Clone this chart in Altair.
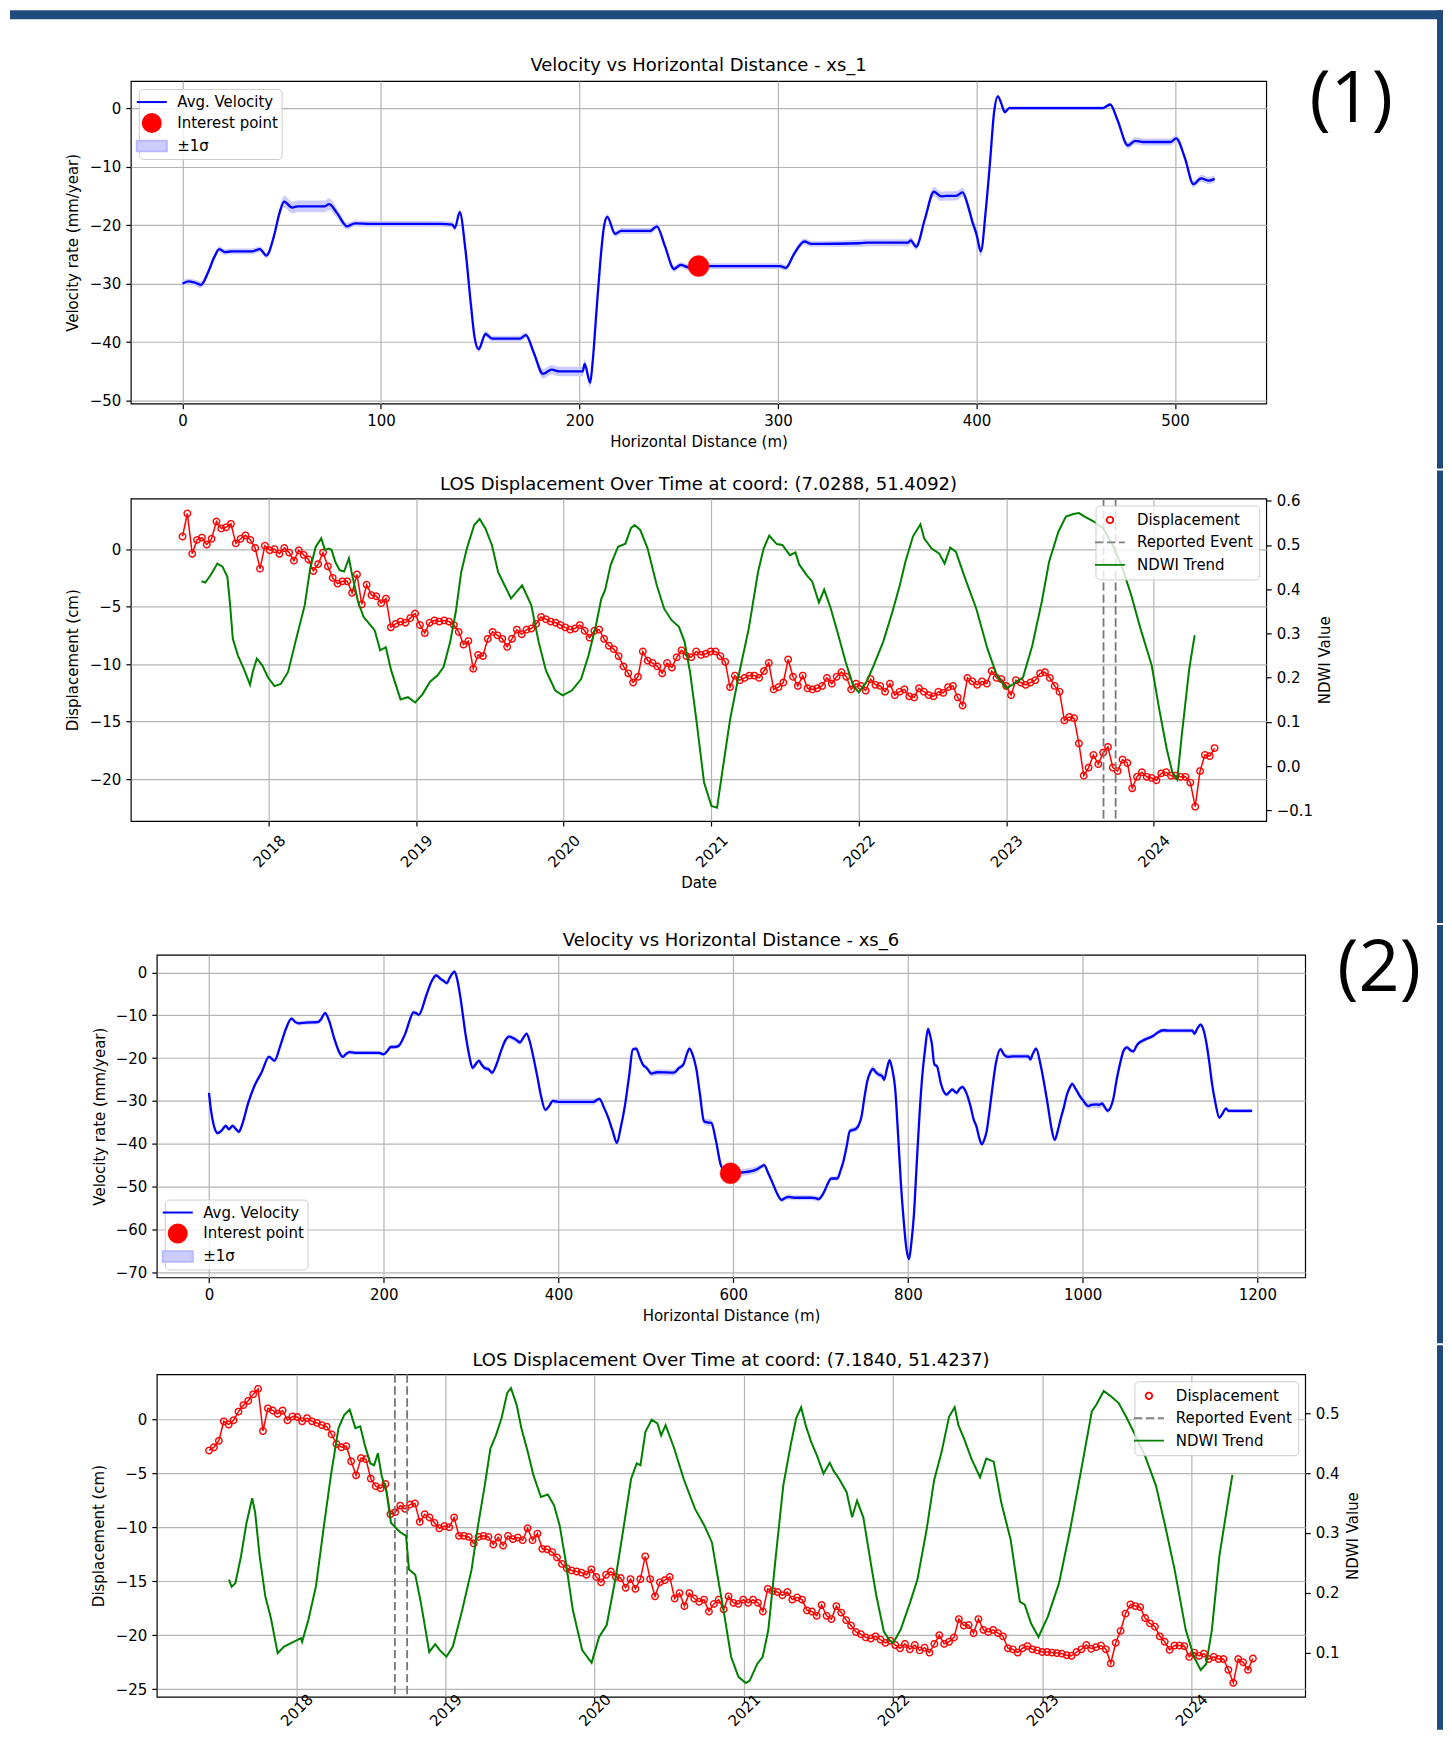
import altair as alt
import numpy as np
import pandas as pd

FONT = "DejaVu Sans"
NAVY = "#1f4a7c"

# ---------------- data ----------------
# xs_1 profile: (horizontal distance m, avg velocity mm/yr, sigma)
XS1_PROFILE = [
    (0.0, -30.0, 0.5), (3.0, -29.6, 0.5), (6.0, -29.8, 0.5), (9.3, -30.2, 0.6), (13.0, -28.0, 0.5),
    (16.0, -25.5, 0.5), (18.6, -24.1, 0.5), (21.4, -24.6, 0.5), (25.0, -24.5, 0.5), (35.0, -24.5, 0.5),
    (39.0, -24.1, 0.5), (42.3, -25.2, 0.5), (46.0, -22.0, 0.6), (49.0, -17.8, 0.8), (51.2, -16.0, 1.0),
    (55.3, -17.0, 1.0), (58.0, -16.8, 1.0), (71.7, -16.8, 1.0), (73.9, -16.4, 1.0), (78.0, -18.0, 0.8),
    (82.9, -20.2, 0.6), (87.0, -19.7, 0.5), (95.0, -19.8, 0.5), (130.0, -19.8, 0.5), (136.0, -19.9, 0.5),
    (137.2, -20.5, 0.5), (139.7, -17.8, 0.5), (142.5, -24.0, 0.5), (145.3, -33.5, 0.5), (147.1, -39.0, 0.5),
    (149.2, -41.2, 0.5), (152.7, -38.6, 0.5), (156.0, -39.4, 0.5), (170.0, -39.4, 0.5), (173.0, -38.8, 0.5),
    (177.0, -41.8, 0.6), (181.6, -45.4, 0.8), (186.0, -44.7, 0.8), (190.0, -45.0, 0.8), (201.7, -45.0, 0.8),
    (202.6, -43.7, 0.8), (205.4, -46.9, 0.9), (206.7, -43.2, 0.7), (208.6, -34.6, 0.6), (210.4, -26.7, 0.5),
    (212.3, -20.4, 0.5), (214.0, -18.6, 0.5), (218.0, -21.5, 0.5), (221.0, -21.0, 0.5), (235.6, -21.0, 0.5),
    (239.0, -20.2, 0.5), (243.0, -23.5, 0.5), (247.7, -27.5, 0.5), (251.0, -26.8, 0.5), (255.0, -27.2, 0.5),
    (260.0, -27.0, 0.5), (301.0, -27.0, 0.5), (304.0, -27.3, 0.5), (308.0, -25.0, 0.5), (313.4, -22.8, 0.5),
    (316.8, -23.2, 0.5), (320.0, -23.2, 0.5), (341.0, -23.1, 0.6), (345.0, -23.0, 0.6), (365.5, -23.0, 0.6),
    (366.9, -22.6, 0.6), (369.6, -23.7, 0.6), (374.0, -19.0, 0.7), (378.6, -14.3, 0.8), (382.3, -15.1, 0.8),
    (385.0, -15.0, 0.8), (389.8, -15.0, 0.8), (393.0, -14.4, 0.8), (396.0, -17.0, 0.8), (398.0, -19.5, 0.8),
    (400.0, -21.5, 0.9), (402.2, -24.5, 0.9), (404.7, -17.5, 0.6), (406.9, -9.0, 0.5), (408.8, -1.0, 0.4),
    (410.8, 2.0, 0.3), (412.5, 0.8, 0.3), (414.3, -0.7, 0.3), (416.5, 0.0, 0.3), (463.7, 0.0, 0.3),
    (467.4, 0.6, 0.3), (471.0, -2.0, 0.4), (476.3, -6.4, 0.6), (480.0, -5.6, 0.6), (484.0, -5.8, 0.6),
    (497.8, -5.8, 0.6), (500.6, -5.2, 0.6), (505.0, -8.5, 0.6), (509.3, -13.0, 0.6), (513.2, -12.0, 0.6),
    (517.0, -12.4, 0.6), (520.0, -12.1, 0.6),
]
XS1_INTEREST = [260.0, -27.0]

# xs_6 profile: (horizontal distance m, avg velocity mm/yr, sigma)
XS6_PROFILE = [
    (0.0, -28.1, .5), (2.1, -31.9, .5), (5.6, -35.8, .5), (9.9, -37.5, .5), (14.0, -37.0, .5), (19.3, -35.8, .5),
    (22.7, -36.6, .5), (27.0, -35.8, .5), (30.5, -36.5, .5), (34.3, -37.2, .5), (38.0, -35.5, .5), (45.0, -30.4, .5),
    (52.0, -26.5, .5), (60.0, -23.4, .5), (68.7, -19.7, .5), (75.0, -20.6, .5), (81.5, -17.2, .5), (88.0, -13.2, .5),
    (94.4, -10.8, .5), (99.0, -11.6, .5), (103.0, -11.9, .5), (110.0, -11.7, .5), (124.5, -11.6, .5), (128.0, -11.0, .5),
    (133.0, -9.5, .5), (137.0, -11.0, .5), (143.8, -15.7, .5), (149.0, -18.6, .5), (153.0, -19.7, .5), (157.0, -19.0, .5),
    (161.0, -18.6, .5), (170.0, -18.8, .5), (195.0, -18.8, .5), (199.6, -19.1, .5), (204.0, -18.4, .5), (208.0, -17.4, .5),
    (212.0, -17.4, .5), (216.7, -17.2, .5), (222.0, -15.5, .5), (225.0, -14.1, .5), (230.0, -11.0, .5), (234.0, -9.3, .5),
    (237.0, -9.5, .5), (240.0, -9.9, .5), (249.0, -5.2, .5), (255.0, -2.0, .5), (260.0, -0.7, .5), (265.0, -1.5, .5),
    (268.0, -1.9, .5), (272.5, -2.5, .5), (274.7, -1.6, .5), (278.0, -0.4, .5), (281.0, 0.2, .5), (284.0, -1.5, .5),
    (287.6, -5.6, .5), (294.0, -14.9, .5), (298.0, -19.5, .5), (301.7, -22.3, .5), (305.0, -21.5, .5), (309.0, -20.6, .5),
    (312.0, -21.5, .5), (315.5, -22.3, .6), (320.0, -22.6, .6), (324.0, -23.4, .6), (329.0, -21.5, .5), (334.8, -18.0, .5),
    (340.0, -15.6, .5), (343.0, -15.0, .6), (348.0, -15.3, .6), (352.0, -15.8, .6), (356.0, -16.3, .6), (360.0, -15.2, .5),
    (363.5, -14.3, .5), (367.0, -16.0, .5), (371.0, -19.5, .5), (376.0, -24.5, .5), (380.0, -28.8, .5), (385.0, -32.1, .5),
    (389.0, -31.3, .5), (393.6, -30.0, .6), (400.0, -30.2, .7), (440.0, -30.2, .7), (444.0, -29.8, .6), (447.0, -29.5, .5),
    (452.0, -31.5, .5), (457.0, -33.9, .5), (462.0, -37.0, .5), (467.0, -39.8, .5), (471.0, -36.5, .5), (476.0, -31.2, .5),
    (481.0, -24.0, .5), (485.0, -18.0, .5), (489.0, -17.8, .5), (493.0, -19.8, .5), (496.6, -21.5, .5), (501.0, -22.3, .6),
    (506.4, -23.6, .7), (513.0, -23.3, .7), (532.0, -23.4, .7), (538.0, -22.3, .6), (543.0, -21.5, .5), (547.0, -19.0, .5),
    (550.0, -17.8, .5), (554.0, -19.5, .5), (558.0, -22.7, .5), (562.0, -28.5, .6), (566.5, -34.7, .8), (570.0, -35.0, .8),
    (575.0, -35.1, .8), (580.0, -39.0, .6), (586.0, -45.1, .6), (591.0, -46.5, .7), (597.0, -46.9, .8), (610.7, -46.7, .8),
    (625.6, -46.1, .8), (631.0, -45.5, .6), (635.4, -45.0, .5), (640.0, -46.8, .5), (644.8, -49.0, .5), (650.0, -51.5, .5),
    (655.4, -53.1, .6), (660.0, -52.6, .6), (664.0, -52.4, .6), (670.0, -52.6, .6), (689.6, -52.6, .6), (694.0, -52.7, .6),
    (698.0, -52.9, .6), (702.0, -52.0, .5), (705.5, -50.6, .5), (709.0, -49.0, .5), (712.3, -48.1, .5), (719.4, -48.1, .5),
    (722.5, -46.5, .5), (725.8, -44.4, .5), (730.0, -40.5, .5), (733.5, -37.0, .6), (740.7, -36.5, .7), (744.0, -35.5, .6),
    (747.0, -33.5, .5), (750.0, -29.5, .5), (753.5, -25.4, .6), (757.0, -23.3, .7), (760.0, -22.5, .7), (763.0, -23.2, .7),
    (766.3, -23.8, .7), (770.6, -24.2, .7), (772.7, -25.1, .6), (776.0, -22.5, .5), (779.0, -20.5, .5), (782.0, -22.5, .5),
    (785.5, -27.3, .5), (788.5, -37.0, .5), (791.9, -49.0, .5), (795.0, -57.5, .5), (798.3, -64.5, .5), (801.3, -66.9, .6),
    (804.0, -63.0, .5), (806.8, -56.8, .5), (810.0, -45.0, .5), (813.2, -33.5, .5), (816.5, -24.0, .5), (819.6, -18.0, .5),
    (823.0, -13.2, .5), (825.5, -14.8, .5), (827.3, -16.5, .5), (830.3, -21.5, .5), (833.3, -21.9, .5), (837.6, -25.8, .5),
    (841.0, -27.8, .5), (844.0, -28.5, .5), (848.0, -27.8, .5), (850.8, -27.3, .5), (853.5, -27.8, .5), (856.0, -28.1, .5),
    (859.0, -27.2, .5), (862.4, -26.7, .5), (865.5, -27.5, .5), (868.8, -29.2, .5), (872.0, -31.5, .5), (875.2, -34.3, .5),
    (878.5, -36.0, .5), (881.5, -38.5, .5), (884.6, -40.1, .5), (887.5, -39.0, .5), (890.2, -37.0, .5), (893.0, -33.0, .5),
    (896.5, -27.3, .5), (900.8, -21.1, .5), (906.0, -17.9, .5), (910.0, -19.2, .5), (914.5, -19.7, .6), (920.0, -19.6, .6),
    (938.0, -19.6, .6), (940.0, -20.3, .5), (943.0, -19.0, .5), (946.7, -17.8, .5), (951.8, -21.5, .5), (956.0, -26.0, .5),
    (960.3, -31.2, .5), (964.0, -36.0, .5), (968.0, -39.1, .5), (971.5, -37.0, .5), (975.2, -33.9, .5), (978.5, -31.5, .5),
    (981.6, -28.8, .5), (985.0, -27.0, .5), (988.0, -26.0, .5), (992.0, -27.2, .5), (996.6, -28.8, .6), (1001.0, -30.0, .7),
    (1006.4, -31.2, .8), (1010.0, -30.9, .8), (1015.8, -30.8, .8), (1019.0, -30.9, .8), (1022.2, -30.6, .8), (1025.5, -31.5, .7),
    (1028.6, -32.3, .6), (1032.0, -31.5, .5), (1035.0, -29.6, .5), (1039.0, -25.0, .5), (1043.5, -20.7, .5), (1047.0, -18.2, .5),
    (1050.7, -17.5, .5), (1055.0, -18.2, .5), (1058.4, -18.4, .5), (1061.5, -17.2, .5), (1064.8, -16.4, .5), (1070.0, -15.8, .5),
    (1075.5, -15.3, .5), (1081.0, -14.8, .5), (1086.0, -14.0, .5), (1092.5, -13.5, .5), (1100.0, -13.6, .5), (1125.7, -13.6, .5),
    (1128.0, -14.3, .5), (1131.5, -13.0, .5), (1135.0, -12.2, .5), (1138.0, -13.2, .5), (1141.6, -16.4, .5), (1145.0, -21.0, .5),
    (1148.0, -25.8, .5), (1152.0, -30.5, .5), (1156.5, -33.9, .5), (1160.0, -33.0, .5), (1164.0, -31.8, .5), (1167.0, -32.3, .5),
    (1194.0, -32.3, .5),
]
XS6_INTEREST = [597.0, -46.9]

# LOS displacement (cm), one acquisition every 12 days
DISP_STEP_DAYS = 12
P2_FIRST_DATE = "2017-06-01"
P2_DISP = [
    1.1, 3.1, -0.4, 0.8, 1.0, 0.4, 0.9, 2.4, 1.8, 1.9, 2.2, 0.5, 0.9, 1.2, 0.8, 0.1, -1.7, 0.3, -0.1, 0.0,
    -0.4, 0.1, -0.3, -1.0, -0.1, -0.5, -0.9, -1.9, -1.3, -0.3, -1.5, -2.5, -3.0, -2.8, -2.8, -3.8, -2.2, -4.8, -3.1, -4.0,
    -4.1, -4.7, -4.3, -6.8, -6.5, -6.3, -6.4, -6.0, -5.6, -6.6, -7.3, -6.4, -6.2, -6.3, -6.2, -6.3, -6.6, -7.2, -8.3, -8.0,
    -10.4, -9.2, -9.3, -7.8, -7.2, -7.5, -7.8, -8.5, -7.8, -7.0, -7.4, -7.0, -6.9, -6.5, -5.9, -6.1, -6.3, -6.4, -6.6, -6.8,
    -7.0, -6.9, -6.6, -7.1, -7.7, -7.1, -7.0, -7.8, -8.4, -8.7, -9.3, -10.2, -10.8, -11.6, -11.1, -8.9, -9.7, -9.9, -10.2, -10.8,
    -9.9, -10.3, -9.4, -8.8, -9.3, -9.4, -8.9, -9.2, -9.1, -8.9, -8.9, -9.3, -9.8, -12.0, -11.0, -11.4, -11.2, -11.0, -11.0, -11.2,
    -10.6, -9.9, -12.2, -12.0, -11.6, -9.6, -11.1, -11.9, -11.0, -12.1, -12.2, -12.1, -11.9, -11.2, -11.7, -11.1, -10.7, -11.1, -12.2, -11.7,
    -11.9, -12.3, -11.3, -11.8, -11.9, -12.4, -11.7, -12.7, -12.4, -12.2, -12.8, -12.9, -12.1, -12.4, -12.7, -12.8, -12.4, -12.5, -12.0, -11.9,
    -12.9, -13.6, -11.2, -11.5, -11.8, -11.5, -11.7, -10.6, -11.2, -11.3, -11.9, -12.7, -11.4, -11.6, -11.8, -11.6, -11.4, -10.8, -10.7, -11.2,
    -11.9, -12.4, -14.9, -14.6, -14.7, -16.9, -19.7, -19.0, -17.9, -18.7, -17.7, -17.2, -19.0, -19.3, -18.3, -18.6, -20.8, -19.8, -19.4, -19.8,
    -19.9, -20.1, -19.5, -19.4, -19.7, -19.7, -19.8, -19.8, -20.3, -22.4, -19.3, -17.9, -18.0, -17.3,
]
# NDWI trend: (decimal year, NDWI)
P2_NDWI = [
    (2017.543, 0.418), (2017.568, 0.415), (2017.605, 0.432), (2017.650, 0.458), (2017.685, 0.451), (2017.718, 0.428),
    (2017.735, 0.371), (2017.755, 0.288), (2017.790, 0.250), (2017.830, 0.220), (2017.872, 0.184), (2017.890, 0.213),
    (2017.918, 0.243), (2017.955, 0.228), (2017.993, 0.201), (2018.038, 0.181), (2018.080, 0.186), (2018.130, 0.213),
    (2018.180, 0.281), (2018.243, 0.364), (2018.280, 0.447), (2018.318, 0.496), (2018.355, 0.515), (2018.380, 0.489),
    (2018.405, 0.492), (2018.425, 0.489), (2018.450, 0.462), (2018.480, 0.443), (2018.510, 0.440), (2018.543, 0.470),
    (2018.560, 0.440), (2018.605, 0.371), (2018.643, 0.337), (2018.680, 0.322), (2018.718, 0.307), (2018.755, 0.262),
    (2018.793, 0.269), (2018.830, 0.216), (2018.893, 0.151), (2018.943, 0.156), (2018.993, 0.144), (2019.043, 0.163),
    (2019.093, 0.191), (2019.143, 0.205), (2019.185, 0.224), (2019.230, 0.281), (2019.268, 0.349), (2019.305, 0.439),
    (2019.343, 0.492), (2019.393, 0.545), (2019.430, 0.559), (2019.468, 0.538), (2019.513, 0.500), (2019.555, 0.439),
    (2019.593, 0.413), (2019.643, 0.379), (2019.680, 0.394), (2019.718, 0.409), (2019.780, 0.364), (2019.830, 0.281),
    (2019.880, 0.216), (2019.943, 0.171), (2019.993, 0.160), (2020.055, 0.171), (2020.118, 0.197), (2020.168, 0.250),
    (2020.218, 0.318), (2020.255, 0.379), (2020.280, 0.398), (2020.318, 0.455), (2020.368, 0.496), (2020.418, 0.503),
    (2020.455, 0.538), (2020.480, 0.545), (2020.518, 0.534), (2020.568, 0.492), (2020.630, 0.409), (2020.680, 0.356),
    (2020.730, 0.330), (2020.780, 0.315), (2020.818, 0.281), (2020.855, 0.213), (2020.900, 0.099), (2020.950, -0.037),
    (2021.000, -0.090), (2021.038, -0.094), (2021.076, -0.007), (2021.127, 0.107), (2021.190, 0.213), (2021.253, 0.311),
    (2021.316, 0.439), (2021.354, 0.492), (2021.392, 0.521), (2021.443, 0.502), (2021.481, 0.500), (2021.532, 0.477),
    (2021.570, 0.483), (2021.595, 0.456), (2021.646, 0.432), (2021.684, 0.417), (2021.729, 0.370), (2021.765, 0.399),
    (2021.810, 0.356), (2021.861, 0.296), (2021.911, 0.235), (2021.962, 0.182), (2022.000, 0.167), (2022.051, 0.190),
    (2022.101, 0.228), (2022.165, 0.281), (2022.228, 0.349), (2022.278, 0.409), (2022.316, 0.462), (2022.367, 0.519),
    (2022.418, 0.547), (2022.443, 0.515), (2022.494, 0.492), (2022.544, 0.481), (2022.582, 0.458), (2022.620, 0.494),
    (2022.658, 0.485), (2022.722, 0.424), (2022.797, 0.356), (2022.873, 0.265), (2022.937, 0.205), (2023.000, 0.176),
    (2023.051, 0.186), (2023.114, 0.201), (2023.177, 0.273), (2023.241, 0.371), (2023.291, 0.462), (2023.354, 0.530),
    (2023.405, 0.564), (2023.456, 0.570), (2023.494, 0.572), (2023.532, 0.564), (2023.595, 0.553), (2023.658, 0.538),
    (2023.722, 0.500), (2023.785, 0.451), (2023.848, 0.387), (2023.911, 0.311), (2023.987, 0.228), (2024.038, 0.129),
    (2024.089, 0.039), (2024.127, -0.014), (2024.160, -0.030), (2024.190, 0.068), (2024.241, 0.220), (2024.278, 0.296),
]
P2_EVENTS = ["2023-08-30T00:00:00", "2023-09-29T00:00:00"]

P4_FIRST_DATE = "2017-06-01"
P4_DISP = [
    -2.9, -2.6, -2.0, -0.2, -0.5, -0.1, 0.7, 1.3, 1.7, 2.3, 2.8, -1.1, 1.0, 0.8, 0.5, 0.8, -0.1, 0.25, 0.2, -0.2,
    0.1, -0.2, -0.35, -0.55, -0.7, -1.4, -2.3, -2.6, -2.5, -3.9, -5.2, -3.6, -3.7, -5.5, -6.2, -6.4, -6.0, -8.8, -8.6, -8.0,
    -8.3, -7.9, -7.8, -9.5, -8.8, -9.1, -9.6, -10.1, -9.9, -10.0, -9.1, -10.8, -10.8, -10.9, -11.5, -10.9, -10.8, -10.9, -11.6, -10.95,
    -11.7, -10.8, -11.1, -10.95, -11.2, -10.1, -11.2, -10.6, -12.0, -12.05, -12.3, -12.8, -13.4, -13.8, -14.0, -14.1, -14.2, -14.4, -13.9, -14.6,
    -15.1, -14.4, -14.1, -14.6, -14.7, -15.6, -14.8, -15.7, -14.8, -12.7, -14.8, -16.4, -15.1, -14.9, -14.6, -16.6, -16.1, -17.3, -16.1, -16.6,
    -16.9, -16.7, -17.8, -17.1, -16.7, -17.6, -16.4, -17.0, -17.1, -16.7, -17.0, -16.7, -17.0, -17.8, -15.7, -15.9, -16.0, -16.3, -16.0, -16.7,
    -16.5, -16.7, -17.7, -17.8, -18.2, -17.2, -18.2, -18.5, -17.3, -17.9, -18.6, -19.1, -19.7, -19.9, -20.2, -20.3, -20.1, -20.4, -20.7, -20.5,
    -20.9, -21.2, -20.8, -21.3, -20.9, -21.4, -21.15, -21.6, -20.8, -20.0, -20.8, -20.6, -20.2, -18.5, -19.1, -19.05, -19.8, -18.5, -19.5, -19.7,
    -19.5, -19.8, -20.1, -21.2, -21.3, -21.6, -21.2, -21.0, -21.3, -21.4, -21.55, -21.55, -21.6, -21.65, -21.7, -21.85, -21.9, -21.55, -21.3, -20.9,
    -21.25, -21.1, -20.95, -21.3, -22.6, -20.7, -19.6, -18.0, -17.15, -17.3, -17.4, -18.4, -18.9, -19.2, -20.1, -20.6, -21.35, -20.95, -20.95, -21.0,
    -22.0, -21.6, -21.9, -21.7, -22.2, -22.0, -22.2, -22.2, -23.2, -24.4, -22.2, -22.5, -23.2, -22.15,
]
P4_NDWI = [
    (2017.547, 0.222), (2017.565, 0.210), (2017.590, 0.216), (2017.628, 0.261), (2017.665, 0.317), (2017.703, 0.358),
    (2017.723, 0.334), (2017.753, 0.261), (2017.791, 0.194), (2017.829, 0.157), (2017.874, 0.099), (2017.917, 0.110),
    (2017.980, 0.118), (2018.030, 0.124), (2018.038, 0.118), (2018.080, 0.155), (2018.131, 0.211), (2018.181, 0.306),
    (2018.231, 0.396), (2018.282, 0.475), (2018.320, 0.497), (2018.357, 0.506), (2018.395, 0.475), (2018.428, 0.478),
    (2018.458, 0.447), (2018.496, 0.416), (2018.521, 0.413), (2018.546, 0.433), (2018.571, 0.396), (2018.604, 0.368),
    (2018.634, 0.317), (2018.672, 0.307), (2018.697, 0.301), (2018.735, 0.295), (2018.755, 0.239), (2018.797, 0.230),
    (2018.835, 0.183), (2018.891, 0.101), (2018.931, 0.114), (2018.961, 0.104), (2019.006, 0.093), (2019.049, 0.110),
    (2019.112, 0.171), (2019.175, 0.239), (2019.218, 0.312), (2019.263, 0.379), (2019.301, 0.441), (2019.338, 0.463),
    (2019.376, 0.492), (2019.414, 0.534), (2019.439, 0.542), (2019.477, 0.514), (2019.509, 0.475), (2019.552, 0.435),
    (2019.590, 0.396), (2019.640, 0.360), (2019.686, 0.364), (2019.728, 0.346), (2019.766, 0.312), (2019.804, 0.256),
    (2019.854, 0.171), (2019.917, 0.104), (2019.980, 0.083), (2020.030, 0.126), (2020.081, 0.146), (2020.143, 0.228),
    (2020.199, 0.317), (2020.244, 0.390), (2020.282, 0.416), (2020.307, 0.413), (2020.340, 0.469), (2020.382, 0.489),
    (2020.420, 0.483), (2020.445, 0.463), (2020.475, 0.480), (2020.533, 0.441), (2020.596, 0.390), (2020.672, 0.340),
    (2020.735, 0.312), (2020.785, 0.284), (2020.823, 0.228), (2020.873, 0.155), (2020.913, 0.093), (2020.963, 0.059),
    (2021.013, 0.049), (2021.038, 0.053), (2021.088, 0.081), (2021.125, 0.093), (2021.163, 0.138), (2021.213, 0.261),
    (2021.263, 0.379), (2021.313, 0.447), (2021.350, 0.492), (2021.383, 0.510), (2021.413, 0.480), (2021.450, 0.452),
    (2021.488, 0.430), (2021.533, 0.399), (2021.575, 0.417), (2021.600, 0.404), (2021.638, 0.390), (2021.688, 0.368),
    (2021.725, 0.326), (2021.758, 0.354), (2021.800, 0.326), (2021.850, 0.250), (2021.888, 0.194), (2021.938, 0.135),
    (2021.975, 0.121), (2022.000, 0.116), (2022.050, 0.138), (2022.113, 0.183), (2022.163, 0.222), (2022.225, 0.306),
    (2022.275, 0.388), (2022.325, 0.435), (2022.375, 0.494), (2022.413, 0.510), (2022.438, 0.480), (2022.475, 0.458),
    (2022.525, 0.424), (2022.583, 0.393), (2022.625, 0.424), (2022.675, 0.419), (2022.725, 0.351), (2022.788, 0.289),
    (2022.850, 0.185), (2022.883, 0.180), (2022.925, 0.149), (2022.975, 0.126), (2023.038, 0.160), (2023.113, 0.216),
    (2023.188, 0.306), (2023.263, 0.407), (2023.333, 0.503), (2023.363, 0.514), (2023.413, 0.537), (2023.463, 0.528),
    (2023.513, 0.517), (2023.563, 0.494), (2023.613, 0.469), (2023.688, 0.430), (2023.763, 0.379), (2023.825, 0.312),
    (2023.888, 0.239), (2023.963, 0.138), (2024.018, 0.093), (2024.063, 0.071), (2024.100, 0.081), (2024.138, 0.138),
    (2024.188, 0.261), (2024.238, 0.340), (2024.275, 0.397),
]
P4_EVENTS = ["2018-08-30T00:00:00", "2018-09-29T00:00:00"]

YEAR_TICKS = [2018, 2019, 2020, 2021, 2022, 2023, 2024]
VEL_LEGEND = ["Avg. Velocity", "Interest point", "±1σ"]
LOS_LEGEND = ["Displacement", "Reported Event", "NDWI Trend"]

# ---------------- helpers ----------------
ONE = pd.DataFrame({"k": [0]})
SMALL_CIRCLE = "M0.43,0A0.43,0.43,0,1,1,-0.43,0A0.43,0.43,0,1,1,0.43,0Z"
NONPOS = ["fill", "stroke", "shape", "strokeDash"]


def indep(ch):
    ch = ch.resolve_scale(**{c: "independent" for c in NONPOS})
    return ch.resolve_legend(**{c: "independent" for c in NONPOS})


def dec_year(y):
    yi = int(np.floor(y))
    t0 = pd.Timestamp(year=yi, month=1, day=1)
    t1 = pd.Timestamp(year=yi + 1, month=1, day=1)
    return t0 + (t1 - t0) * (y - yi)


def iso(ts):
    return ts.strftime("%Y-%m-%dT%H:%M:%S")


def axis(values, fmt=None, orient=None, grid=True, label_pad=5, title_pad=6,
         label_angle=None, title_angle=None, title_baseline=None):
    kw = dict(domain=False, ticks=True, tickSize=5, tickWidth=1.2, tickColor="#000000",
              labelFont=FONT, labelFontSize=15, labelColor="#000000", labelPadding=label_pad,
              labelFlush=False, labelOverlap=False,
              titleFont=FONT, titleFontSize=15, titleFontWeight="normal", titleColor="#000000",
              titlePadding=title_pad, grid=grid, gridColor="#b4b4b4", gridWidth=1.2, values=values)
    if fmt:
        kw["format"] = fmt
    if orient:
        kw["orient"] = orient
    if label_angle is not None:
        kw["labelAngle"] = label_angle
        kw["labelAlign"] = "center"
        kw["labelBaseline"] = "middle"
    if title_angle is not None:
        kw["titleAngle"] = title_angle
    if title_baseline is not None:
        kw["titleBaseline"] = title_baseline
    return alt.Axis(**kw)


def legend(orient, offset, size, stroke_w, label_offset, row_pad, pad, fill_transparent=False):
    kw = dict(title=None, orient=orient, offset=offset, padding=pad, fillColor="rgba(255,255,255,0.8)",
              strokeColor="#cccccc", cornerRadius=4, labelFont=FONT, labelFontSize=15,
              labelColor="#000000", labelOffset=label_offset, rowPadding=row_pad,
              symbolSize=size, symbolStrokeWidth=stroke_w, symbolOpacity=1)
    if fill_transparent:
        kw["symbolFillColor"] = "transparent"
    return alt.Legend(**kw)


def decorations(X, Y, W, row_top, row_bot, title, title_dy, top_strip=False, tag=None, tag_xy=None):
    left_page = 9
    layers = [
        alt.Chart(ONE).mark_rule(opacity=0).encode(
            x=alt.value(left_page - X), y=alt.value(0), y2=alt.value(10)),
        alt.Chart(ONE).mark_rect(color=NAVY).encode(
            x=alt.value(1438 - X), x2=alt.value(1444 - X),
            y=alt.value(row_top - Y), y2=alt.value(row_bot - Y)),
        alt.Chart(ONE).mark_text(
            font=FONT, fontSize=18, align="center", baseline="middle", color="#000000", text=title
        ).encode(x=alt.value(W / 2), y=alt.value(-title_dy)),
    ]
    if top_strip:
        layers.append(alt.Chart(ONE).mark_rect(color=NAVY).encode(
            x=alt.value(left_page - X), x2=alt.value(1444 - X),
            y=alt.value(8 - Y), y2=alt.value(17 - Y)))
    if tag:
        layers.append(alt.Chart(ONE).mark_text(
            font="Open Sans", fontSize=72, align="center", baseline="middle",
            color="#000000", text=tag).encode(
            x=alt.value(tag_xy[0] - X), y=alt.value(tag_xy[1] - Y)))
    return layers


def velocity_panel(profile, interest, title, X, Y, W, H, xdom, xticks, ydom, yticks,
                   leg_orient, row_top, row_bot, ytitle_pad, title_dy,
                   tag=None, tag_xy=None, top_strip=False):
    df = pd.DataFrame(profile, columns=["dist", "vel", "sig"])
    df["lo"] = df["vel"] - df["sig"]
    df["hi"] = df["vel"] + df["sig"]
    pt = pd.DataFrame({"dist": [interest[0]], "vel": [interest[1]], "series": ["Interest point"]})
    xs = alt.Scale(domain=xdom, nice=False, zero=False)
    ys = alt.Scale(domain=ydom, nice=False, zero=False)
    xa = axis(xticks, fmt="d", title_pad=6)
    ya = axis(yticks, fmt="d", title_pad=ytitle_pad)
    XT, YT = "Horizontal Distance (m)", "Velocity rate (mm/year)"
    xenc = alt.X("dist:Q", scale=xs, axis=xa, title=XT)

    band = alt.Chart(df).mark_area(interpolate="monotone", color="#ccccff").encode(
        x=xenc, y=alt.Y("lo:Q", scale=ys, axis=ya, title=YT), y2="hi:Q")
    line = alt.Chart(df).mark_line(interpolate="monotone", color="#0000ff", strokeWidth=2.3).encode(
        x=xenc, y=alt.Y("vel:Q", scale=ys, axis=ya, title=YT))
    leg = legend(leg_orient, 8, 324, 2.0, 15.5, 0, 3)
    point = alt.Chart(pt).mark_point(filled=True, opacity=1, size=441, strokeWidth=0.5).encode(
        x=xenc, y=alt.Y("vel:Q", scale=ys, axis=ya, title=YT),
        fill=alt.Fill("series:N", scale=alt.Scale(domain=VEL_LEGEND, range=["transparent", "#ff0000", "#ccccff"]), legend=leg),
        stroke=alt.Stroke("series:N", scale=alt.Scale(domain=VEL_LEGEND, range=["#0000ff", "#ff0000", "#b8b8ff"]), legend=leg),
        shape=alt.Shape("series:N", scale=alt.Scale(domain=VEL_LEGEND, range=["M-1.67,0H1.67", "circle", "M-1.67,-0.58H1.67V0.58H-1.67Z"]), legend=leg),
    )
    deco = decorations(X, Y, W, row_top, row_bot, title, title_dy, top_strip=top_strip, tag=tag, tag_xy=tag_xy)
    return alt.layer(band, line, point, *deco).properties(width=W, height=H)


def los_panel(first_date, disp, ndwi, events, title, X, Y, W, H, ydom, yticks, rdom, rticks,
              row_top, row_bot, ytitle_pad, rtitle_pad, xlabel_pad, xtitle, title_dy):
    t0 = pd.Timestamp(first_date)
    ddf = pd.DataFrame({
        "date": [iso(t0 + pd.Timedelta(days=DISP_STEP_DAYS * i)) for i in range(len(disp))],
        "disp": disp,
    })
    ddf["series"] = "Displacement"
    ndf = pd.DataFrame({"date": [iso(dec_year(a)) for a, _ in ndwi], "ndwi": [b for _, b in ndwi]})
    edf = pd.DataFrame({"date": events})

    xs = alt.Scale(domain=[alt.DateTime(year=2017, month=1, date=24),
                           alt.DateTime(year=2024, month=10, date=6)], nice=False)
    xa = axis([alt.DateTime(year=y, month=1, date=1) for y in YEAR_TICKS], fmt="%Y",
              label_pad=xlabel_pad, title_pad=5, label_angle=315)
    xenc = alt.X("date:T", scale=xs, axis=xa, title=xtitle)
    ys = alt.Scale(domain=ydom, nice=False, zero=False)
    ya = axis(yticks, fmt="d", title_pad=ytitle_pad)
    rs = alt.Scale(domain=rdom, nice=False, zero=False)
    ra = axis(rticks, fmt=".1f", orient="right", grid=False, title_pad=rtitle_pad,
              title_angle=270, title_baseline="top")
    YT = "Displacement (cm)"

    leg = legend("top-right", 7, 225, 1.8, 18.5, 5.5, 6, fill_transparent=True)
    dline = alt.Chart(ddf).mark_line(color="#ff0000", strokeWidth=1.5).encode(
        x=xenc, y=alt.Y("disp:Q", scale=ys, axis=ya, title=YT))
    dpts = alt.Chart(ddf).mark_point(filled=False, opacity=1, size=225, strokeWidth=1.4).encode(
        x=xenc, y=alt.Y("disp:Q", scale=ys, axis=ya, title=YT),
        stroke=alt.Stroke("series:N", scale=alt.Scale(domain=LOS_LEGEND, range=["#ff0000", "#808080", "#008000"]), legend=leg),
        shape=alt.Shape("series:N", scale=alt.Scale(domain=LOS_LEGEND, range=[SMALL_CIRCLE, "M-2,0H2", "M-2,0H2"]), legend=leg),
        strokeDash=alt.StrokeDash("series:N", scale=alt.Scale(domain=LOS_LEGEND, range=[[1, 0], [8.4, 3.6], [1, 0]]), legend=leg),
    )
    ev = alt.Chart(edf).mark_rule(color="#777777", strokeWidth=1.8, strokeDash=[8.4, 3.6]).encode(x=xenc)
    deco = decorations(X, Y, W, row_top, row_bot, title, title_dy)
    left = alt.layer(dline, dpts, ev, *deco)
    nline = alt.Chart(ndf).mark_line(color="#008000", strokeWidth=2).encode(
        x=xenc, y=alt.Y("ndwi:Q", scale=rs, axis=ra, title="NDWI Value"))
    return alt.layer(left, nline).resolve_scale(y="independent").properties(width=W, height=H)


def spacer():
    return alt.Chart(ONE).mark_rule(opacity=0).encode(
        x=alt.value(0), y=alt.value(0), y2=alt.value(1)
    ).properties(width=1, height=1, view=alt.ViewBackground(strokeWidth=0, strokeOpacity=0))


# ---------------- panels ----------------
p1 = velocity_panel(XS1_PROFILE, XS1_INTEREST, "Velocity vs Horizontal Distance - xs_1",
                    130, 79, 1137, 323, [-26, 546], [0, 100, 200, 300, 400, 500],
                    [-50.5, 4.6], [-50, -40, -30, -20, -10, 0], "top-left", 8, 467, 9, 15,
                    tag="(1)", tag_xy=(1352, 98), top_strip=True)

p2 = los_panel(P2_FIRST_DATE, P2_DISP, P2_NDWI, P2_EVENTS,
               "LOS Displacement Over Time at coord: (7.0288, 51.4092)",
               130, 498, 1137, 323, [-23.65, 4.4], [-20, -15, -10, -5, 0],
               [-0.124, 0.605], [-0.1, 0.0, 0.1, 0.2, 0.3, 0.4, 0.5, 0.6],
               470, 923, 9, 5, 25, "Date", 14)

p3 = velocity_panel(XS6_PROFILE, XS6_INTEREST, "Velocity vs Horizontal Distance - xs_6",
                    156, 955, 1150, 323, [-59.75, 1254.75], [0, 200, 400, 600, 800, 1000, 1200],
                    [-71.2, 4.1], [-70, -60, -50, -40, -30, -20, -10, 0], "bottom-left", 925, 1344, 8, 14,
                    tag="(2)", tag_xy=(1380, 969))

p4 = los_panel(P4_FIRST_DATE, P4_DISP, P4_NDWI, P4_EVENTS,
               "LOS Displacement Over Time at coord: (7.1840, 51.4237)",
               156, 1374, 1150, 323, [-25.7, 4.15], [-25, -20, -15, -10, -5, 0],
               [0.026, 0.565], [0.1, 0.2, 0.3, 0.4, 0.5],
               1345, 1730, 9, 7, 8, None, 13.5)

rows = [indep(alt.hconcat(spacer(), p, spacing=0)) for p in (p1, p2, p3, p4)]

chart = indep(alt.vconcat(*rows, spacing=0)).properties(padding=0).configure(
    font=FONT
).configure_view(stroke="#000000", strokeWidth=1.2)

chart.save("out.html", embed_options={"renderer": "svg", "actions": False})
